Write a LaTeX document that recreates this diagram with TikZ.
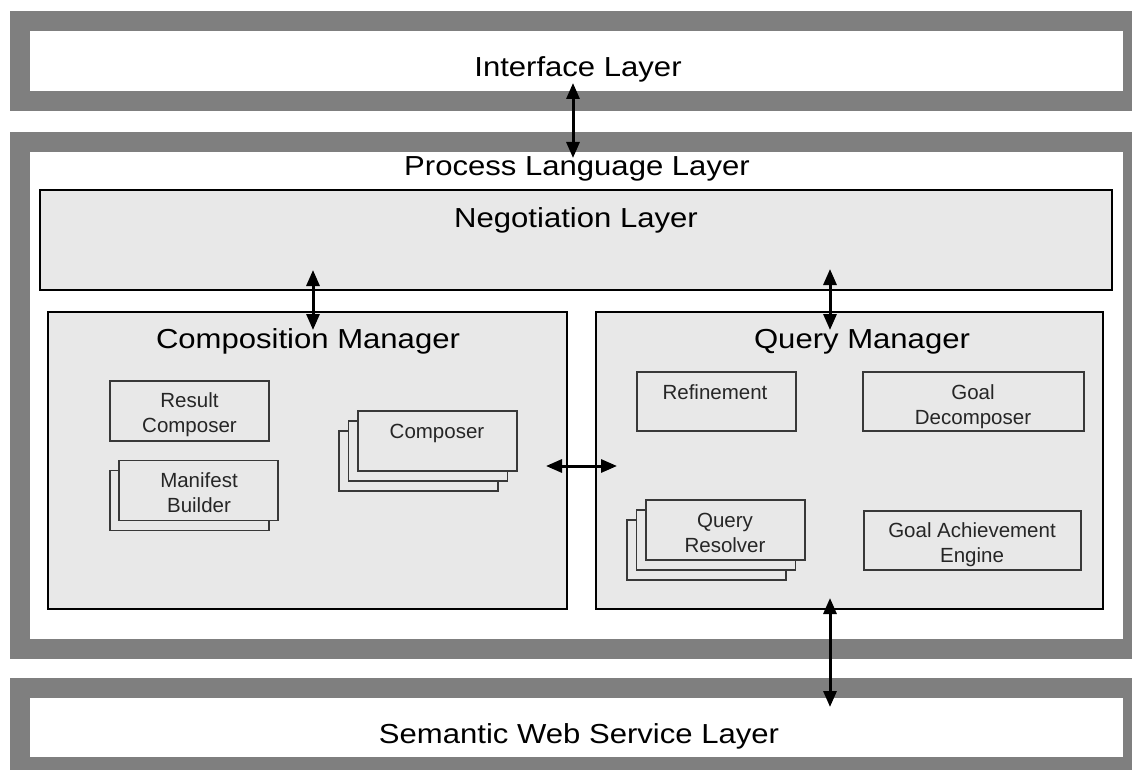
\documentclass[tikz,border=0pt]{standalone}
\usepackage{fontspec}
\setmainfont{Liberation Sans}
\usetikzlibrary{arrows.meta}

\definecolor{framegray}{HTML}{7F7F7F}
\definecolor{panel}{HTML}{E8E8E8}
\definecolor{edge}{HTML}{383838}

% large layer titles are set slightly wide
\newcommand{\widetitle}[1]{\scalebox{1.13}[1]{\fontsize{27.5}{30}\selectfont #1}}

\begin{document}
\begin{tikzpicture}[x=1pt,y=-1pt,
  layerframe/.style={draw=framegray, line width=20pt, fill=white, rectangle, inner sep=0pt},
  panelbox/.style={draw=black, line width=1.4pt, fill=panel, rectangle, inner sep=0pt},
  compbox/.style={draw=edge, line width=1.3pt, fill=panel, rectangle, inner sep=0pt,
                  minimum width=159pt, minimum height=60pt},
  title/.style={anchor=base, inner sep=0pt},
  lbl/.style={font=\fontsize{20.5}{25}\selectfont, align=center, inner sep=0pt, text=black!85},
  link/.style={{Triangle[length=16pt,width=13pt]}-{Triangle[length=16pt,width=13pt]}, line width=3pt}
]
\useasboundingbox (0,0) rectangle (1132,770);
\clip (0,0) rectangle (1132,770);
\fill[white] (0,0) rectangle (1132,770);

% outer layer frames
\node[layerframe, minimum width=1113pt, minimum height=80pt]  (iface)   at (576.5,61)    {};
\node[layerframe, minimum width=1113pt, minimum height=507pt] (process) at (576.5,395.5) {};
\node[layerframe, minimum width=1113pt, minimum height=79pt]  (sws)     at (576.5,727.5) {};

% inner panels
\node[panelbox, minimum width=1072pt, minimum height=100pt] (nego)  at (576,240)     {};
\node[panelbox, minimum width=519pt,  minimum height=297pt] (comp)  at (307.5,460.5) {};
\node[panelbox, minimum width=507pt,  minimum height=297pt] (query) at (849.5,460.5) {};

% layer and panel titles
\node[title] (ifacet)   at (578,77)  {\widetitle{Interface Layer}};
\node[title] (processt) at (577,176) {\widetitle{Process Language Layer}};
\node[title] (negot)    at (576,227) {\widetitle{Negotiation Layer}};
\node[title] (compt)    at (308,348) {\widetitle{Composition Manager}};
\node[title] (queryt)   at (862,348) {\widetitle{Query Manager}};
\node[title] (swst)     at (579,743.5) {\widetitle{Semantic Web Service Layer}};

% composition manager components
\node[compbox] (rescomp) at (189.5,411) {};
\node[lbl] (rescompt) at (189.5,415) {Result\\Composer};

\node[compbox] (manif2) at (189.5,500.5) {};
\node[compbox] (manif1) at (198.5,490.5) {};
\node[lbl] (maniftt) at (199,493) {Manifest\\Builder};

\node[compbox] (compo3) at (418.5,461) {};
\node[compbox] (compo2) at (428,451)   {};
\node[compbox] (compo1) at (437.5,441) {};
\node[lbl, anchor=base] (compot) at (437,438.5) {Composer};

% query manager components
\node[compbox, minimum height=59pt] (refine) at (716.5,401.5) {};
\node[lbl, anchor=base] (refinet) at (715,399.5) {Refinement};

\node[compbox, minimum width=221pt, minimum height=59pt] (goaldec) at (973.5,401.5) {};
\node[lbl] (goaldect) at (973,407) {Goal\\Decomposer};

\node[compbox] (qres3) at (706.5,550) {};
\node[compbox] (qres2) at (716,540)   {};
\node[compbox] (qres1) at (725.5,530) {};
\node[lbl] (qrest) at (725,533) {Query\\Resolver};

\node[compbox, minimum width=217pt, minimum height=59pt] (goalach) at (972.5,540.5) {};
\node[lbl] (goalacht) at (972,545) {Goal Achievement\\Engine};

% connector end points
\coordinate (a1) at (573,83);   \coordinate (a2) at (573,158);
\coordinate (b1) at (313,270);  \coordinate (b2) at (313,330);
\coordinate (c1) at (830,269);  \coordinate (c2) at (830,330);
\coordinate (d1) at (546,466);  \coordinate (d2) at (617,466);
\coordinate (e1) at (830,598);  \coordinate (e2) at (830,707);

\draw[link] (a1) -- (a2);
\draw[link] (b1) -- (b2);
\draw[link] (c1) -- (c2);
\draw[link] (d1) -- (d2);
\draw[link] (e1) -- (e2);
\end{tikzpicture}
\end{document}
